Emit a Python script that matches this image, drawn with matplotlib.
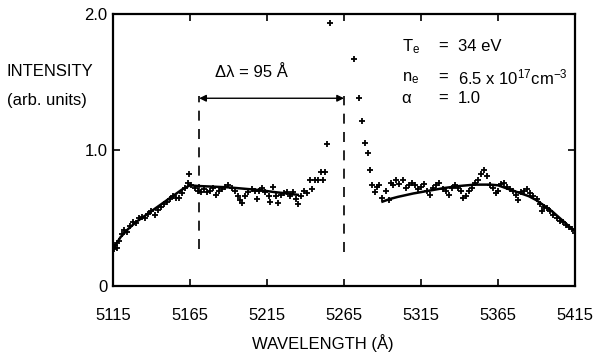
import matplotlib
matplotlib.use('Agg')
import matplotlib.pyplot as plt

plt.rcParams['font.family'] = ['Liberation Sans', 'DejaVu Sans']
plt.rcParams['mathtext.default'] = 'regular'

# measured points, left wing (below the laser line)
left_x = [5115.5, 5116.5, 5117.5, 5119, 5121, 5122, 5124, 5126, 5128, 5130,
          5132, 5134, 5136, 5138, 5140, 5142, 5144, 5146, 5148, 5150,
          5152, 5154, 5156, 5158, 5160, 5162, 5163.5, 5164.5, 5166, 5168,
          5170, 5172, 5174, 5176, 5178, 5180, 5182, 5184, 5186, 5188,
          5190, 5192, 5194, 5196, 5197.5, 5199, 5201, 5203, 5205, 5207,
          5208.5, 5210, 5212, 5214, 5216, 5217, 5219, 5221, 5222, 5224,
          5226, 5228, 5230, 5232, 5234, 5235, 5237, 5239, 5241, 5243,
          5244.5, 5246, 5248, 5250, 5251.5, 5253, 5254, 5256]
left_y = [0.27, 0.30, 0.28, 0.33, 0.38, 0.41, 0.40, 0.44, 0.47, 0.46,
          0.50, 0.51, 0.50, 0.53, 0.55, 0.52, 0.56, 0.58, 0.60, 0.62,
          0.64, 0.66, 0.65, 0.65, 0.68, 0.72, 0.76, 0.82, 0.74, 0.72,
          0.70, 0.69, 0.71, 0.69, 0.70, 0.72, 0.67, 0.70, 0.71, 0.73,
          0.74, 0.72, 0.70, 0.66, 0.63, 0.61, 0.66, 0.69, 0.71, 0.70,
          0.64, 0.70, 0.72, 0.69, 0.66, 0.62, 0.73, 0.66, 0.61, 0.67,
          0.68, 0.69, 0.66, 0.69, 0.64, 0.60, 0.66, 0.70, 0.68, 0.78,
          0.71, 0.78, 0.78, 0.84, 0.78, 0.84, 1.04, 1.93]

# measured points, right wing
right_x = [5271.5, 5274.5, 5277, 5278.5, 5280.5, 5282, 5283, 5285, 5286.5, 5288,
           5290, 5292, 5294, 5295.5, 5297, 5299, 5301, 5303, 5305, 5307,
           5309, 5311, 5313, 5315, 5317, 5319, 5321, 5323, 5325, 5327,
           5329, 5331, 5333, 5335, 5337, 5339, 5341, 5342.5, 5344, 5346,
           5348, 5350, 5352, 5354, 5356, 5358, 5360, 5362, 5363.5, 5365,
           5367, 5369, 5371, 5373, 5375, 5377, 5378, 5380, 5382, 5384,
           5386, 5388, 5390, 5392, 5393.5, 5395, 5397, 5399, 5401, 5403,
           5405, 5407, 5409, 5411, 5413, 5415]
right_y = [1.67, 1.38, 1.21, 1.05, 0.98, 0.85, 0.74, 0.69, 0.73, 0.74,
           0.65, 0.70, 0.63, 0.76, 0.74, 0.78, 0.75, 0.78, 0.72, 0.74,
           0.76, 0.74, 0.71, 0.73, 0.75, 0.70, 0.67, 0.72, 0.74, 0.76,
           0.71, 0.70, 0.67, 0.72, 0.74, 0.72, 0.70, 0.65, 0.66, 0.70,
           0.72, 0.76, 0.78, 0.82, 0.85, 0.81, 0.74, 0.72, 0.68, 0.70,
           0.75, 0.76, 0.73, 0.71, 0.70, 0.67, 0.63, 0.69, 0.70, 0.71,
           0.68, 0.66, 0.64, 0.60, 0.55, 0.58, 0.57, 0.55, 0.52, 0.50,
           0.48, 0.47, 0.45, 0.43, 0.42, 0.39]

# theoretical fit curves
fit_left_x = [5115, 5120, 5125, 5130, 5135, 5140, 5145, 5150, 5155, 5160,
              5165, 5170, 5180, 5190, 5200, 5210, 5220, 5228, 5235]
fit_left_y = [0.27, 0.36, 0.42, 0.47, 0.51, 0.55, 0.59, 0.63, 0.67, 0.71,
              0.74, 0.735, 0.73, 0.725, 0.715, 0.705, 0.69, 0.68, 0.67]
fit_right_x = [5290, 5295, 5300, 5310, 5320, 5330, 5340, 5350, 5360, 5365,
               5370, 5375, 5380, 5385, 5390, 5395, 5400, 5405, 5410, 5415]
fit_right_y = [0.62, 0.64, 0.655, 0.68, 0.70, 0.72, 0.735, 0.745, 0.745, 0.74,
               0.72, 0.70, 0.68, 0.66, 0.63, 0.59, 0.55, 0.50, 0.45, 0.40]

x_ticks = [5115, 5165, 5215, 5265, 5315, 5365, 5415]
y_ticks = [0, 1.0, 2.0]
y_labels = ['0', '1.0', '2.0']

fig = plt.figure(figsize=(6.04, 3.57), dpi=100)
ax = fig.add_axes([0.187, 0.199, 0.765, 0.762])

ax.plot(fit_left_x, fit_left_y, color='black', lw=1.8)
ax.plot(fit_right_x, fit_right_y, color='black', lw=1.8)
ax.plot(left_x, left_y, '+', color='black', ms=5, mew=1.3)
ax.plot(right_x, right_y, '+', color='black', ms=5, mew=1.3)

# width marker
ax.plot([5171, 5171], [0.27, 1.40], color='black', lw=1.2, ls=(0, (6, 5)))
ax.plot([5265, 5265], [0.25, 1.40], color='black', lw=1.2, ls=(0, (6, 5)))
ax.annotate('', xy=(5265, 1.38), xytext=(5171, 1.38),
            arrowprops=dict(arrowstyle='<|-|>', color='black', lw=1.0,
                            shrinkA=0, shrinkB=0, mutation_scale=10))
ax.text(5181, 1.57, 'Δλ = 95 Å', fontsize=12, va='center', ha='left')

# plasma parameters
px = [5302.5, 5326, 5339]
rows = [('$T_e$', '34 eV', 1.76),
        ('$n_e$', '6.5 x 10$^{17}$cm$^{-3}$', 1.53),
        ('α', '1.0', 1.38)]
for sym, val, yy in rows:
    ax.text(px[0], yy, sym, fontsize=12, va='center', ha='left')
    ax.text(px[1], yy, '=', fontsize=12, va='center', ha='left')
    ax.text(px[2], yy, val, fontsize=12, va='center', ha='left')

ax.set_xlim(5115, 5415)
ax.set_ylim(0, 2.0)
ax.set_xticks(x_ticks)
ax.set_xticklabels([str(t) for t in x_ticks])
ax.set_yticks(y_ticks)
ax.set_yticklabels(y_labels)
ax.tick_params(direction='in', length=5, width=1.2, labelsize=12,
               top=True, right=True)
ax.tick_params(axis='x', pad=16)
ax.tick_params(axis='y', pad=4)
for s in ax.spines.values():
    s.set_linewidth(1.6)

fig.text(7 / 604, 1 - 72 / 357, 'INTENSITY', fontsize=12, ha='left', va='center')
fig.text(7 / 604, 1 - 100 / 357, '(arb. units)', fontsize=12, ha='left', va='center')
fig.text(323 / 604, 1 - 343 / 357, 'WAVELENGTH (Å)', fontsize=12, ha='center', va='center')

fig.savefig('out.png', dpi=100)
